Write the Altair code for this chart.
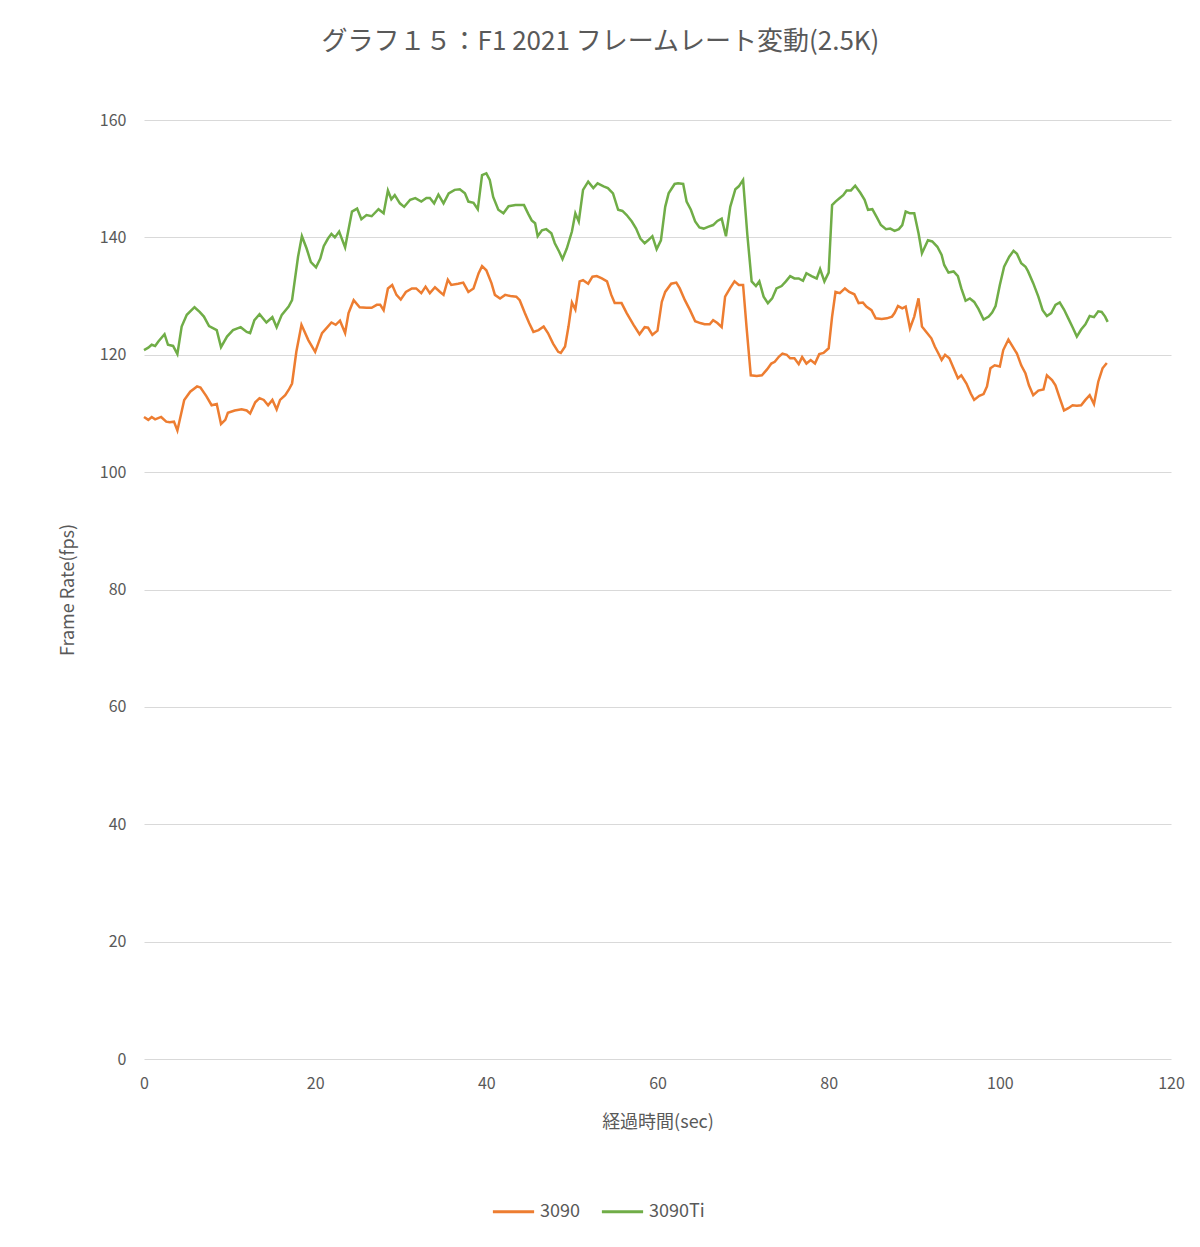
import altair as alt
import pandas as pd

# ---- data ----
t_3090 = [0, 0.5, 0.9, 1.3, 2.0, 2.6, 3.0, 3.5, 3.9, 4.7, 5.4, 6.2, 6.6, 7.3, 7.9, 8.5, 9.0, 9.5, 9.8,
          10.6, 11.4, 12.0, 12.4, 13.0, 13.5, 14.0, 14.5, 15.0, 15.5, 15.9, 16.5, 16.9, 17.3, 17.8, 18.4,
          19.2, 20.0, 20.8, 21.3, 21.9, 22.4, 22.9, 23.5, 23.9, 24.5, 25.2, 26.0, 26.6, 27.2, 27.6, 28.0,
          28.5, 29.0, 29.5, 30.0, 30.6, 31.3, 31.8, 32.4, 32.9, 33.4, 34.0, 34.6, 35.0, 35.5, 35.9, 36.7,
          37.3, 37.9, 38.5, 39.1, 39.5, 40.0, 40.6, 41.0, 41.6, 42.2, 42.8, 43.5, 43.9, 44.5, 45.0, 45.5,
          46.1, 46.7, 47.2, 47.8, 48.4, 48.7, 49.2, 49.6, 50.0, 50.4, 50.9, 51.3, 51.9, 52.4, 52.9, 53.5,
          54.1, 54.6, 55.0, 55.8, 56.4, 57.2, 57.9, 58.5, 58.9, 59.4, 60.0, 60.5, 60.9, 61.6, 62.2, 62.6,
          63.2, 63.8, 64.4, 65.0, 65.5, 66.1, 66.5, 67.0, 67.5, 67.9, 68.5, 69.0, 69.5, 70.0, 70.4, 70.9,
          71.6, 72.2, 72.8, 73.3, 73.7, 74.2, 74.6, 75.1, 75.5, 76.0, 76.5, 76.9, 77.4, 77.9, 78.4, 78.9,
          79.4, 80.0, 80.4, 80.8, 81.3, 81.9, 82.4, 83.0, 83.5, 84.0, 84.4, 85.0, 85.5, 86.2, 86.8, 87.4,
          87.7, 88.1, 88.6, 89.0, 89.5, 90.0, 90.5, 90.9, 91.5, 92.0, 92.4, 92.9, 93.2, 93.6, 94.1, 94.6,
          95.1, 95.5, 96.1, 96.6, 97.0, 97.6, 98.1, 98.5, 98.9, 99.4, 100.0, 100.4, 101.0, 101.5, 102.0,
          102.5, 103.0, 103.4, 103.9, 104.5, 105.1, 105.5, 106.1, 106.5, 107.0, 107.5, 108.0, 108.5,
          109.0, 109.5, 110.0, 110.5, 111.0, 111.5, 112.0, 112.5]
v_3090 = [109.4, 108.9, 109.4, 109.0, 109.4, 108.6, 108.5, 108.6, 107.1, 112.3, 113.7, 114.6, 114.4,
          112.9, 111.4, 111.6, 108.2, 108.9, 110.1, 110.5, 110.7, 110.5, 110.0, 111.9, 112.6, 112.3,
          111.4, 112.3, 110.7, 112.3, 113.1, 114.0, 115.1, 120.5, 125.1, 122.5, 120.5, 123.7, 124.5,
          125.5, 125.1, 125.8, 123.7, 127.1, 129.3, 128.1, 128.0, 128.0, 128.5, 128.5, 127.6, 131.3,
          131.9, 130.2, 129.4, 130.7, 131.3, 131.3, 130.5, 131.6, 130.5, 131.5, 130.7, 130.2, 132.8,
          131.9, 132.1, 132.3, 130.7, 131.3, 133.9, 135.1, 134.4, 132.2, 130.2, 129.6, 130.2, 130.0,
          129.9, 129.3, 127.1, 125.4, 123.9, 124.2, 124.8, 123.7, 121.9, 120.5, 120.3, 121.4, 124.8,
          128.9, 127.7, 132.5, 132.7, 132.1, 133.3, 133.4, 133.0, 132.5, 130.2, 128.8, 128.8, 127.1,
          125.1, 123.5, 124.7, 124.6, 123.4, 124.1, 129.0, 130.7, 132.1, 132.3, 131.3, 129.3, 127.6,
          125.7, 125.4, 125.2, 125.2, 125.9, 125.4, 124.7, 129.9, 131.4, 132.5, 131.9, 131.9, 124.8,
          116.5, 116.4, 116.5, 117.5, 118.5, 118.8, 119.7, 120.2, 120.0, 119.4, 119.4, 118.4, 119.6,
          118.5, 119.1, 118.5, 120.1, 120.3, 121.1, 126.5, 130.7, 130.5, 131.3, 130.7, 130.3, 128.8,
          128.9, 128.2, 127.6, 126.2, 126.1, 126.2, 126.5, 127.1, 128.3, 127.9, 128.2, 124.5, 126.5,
          129.6, 124.8, 123.7, 122.8, 121.4, 120.0, 119.1, 120.0, 119.4, 117.7, 116.0, 116.5, 115.1,
          113.4, 112.3, 113.0, 113.3, 114.6, 117.7, 118.2, 118.0, 120.8, 122.6, 121.4, 120.2, 118.2,
          116.8, 114.8, 113.1, 113.9, 114.1, 116.5, 115.7, 114.8, 112.6, 110.5, 110.9, 111.4, 111.3,
          111.4, 112.3, 113.1, 111.6, 115.4, 117.7, 118.6]

t_3090ti = [0, 0.5, 0.9, 1.3, 1.7, 2.4, 2.8, 3.4, 3.9, 4.4, 5.0, 5.9, 6.5, 7.0, 7.6, 8.5, 9.0, 9.7, 10.4,
            11.3, 12.0, 12.4, 12.9, 13.5, 14.3, 15.0, 15.5, 16.1, 16.9, 17.3, 18.0, 18.45, 19.0, 19.5,
            20.1, 20.6, 21.0, 21.5, 21.9, 22.3, 22.8, 23.5, 24.3, 24.9, 25.4, 26.0, 26.6, 27.4, 28.0,
            28.5, 28.9, 29.3, 29.9, 30.4, 31.1, 31.7, 32.4, 33.0, 33.4, 33.9, 34.4, 35.0, 35.6, 36.3,
            36.9, 37.5, 37.9, 38.5, 39.0, 39.5, 40.0, 40.4, 40.8, 41.4, 42.0, 42.6, 43.4, 44.4, 44.9,
            45.3, 45.7, 46.0, 46.5, 47.0, 47.6, 48.0, 48.5, 48.9, 49.4, 50.0, 50.4, 50.8, 51.3, 51.9,
            52.5, 53.0, 53.7, 54.2, 54.8, 55.4, 55.9, 56.4, 57.0, 57.5, 58.0, 58.5, 58.9, 59.4, 59.9,
            60.4, 60.9, 61.3, 62.0, 62.4, 63.0, 63.4, 63.9, 64.4, 64.9, 65.4, 65.9, 66.5, 67.0, 67.5,
            68.0, 68.5, 69.1, 69.5, 70.0, 70.5, 71.0, 71.5, 71.9, 72.4, 72.9, 73.4, 73.9, 74.5, 75.0,
            75.5, 76.0, 76.5, 77.0, 77.4, 78.0, 78.6, 79.0, 79.5, 80.0, 80.4, 80.8, 81.3, 81.7, 82.1,
            82.6, 83.1, 83.7, 84.2, 84.6, 85.1, 85.6, 86.1, 86.7, 87.2, 87.7, 88.2, 88.6, 89.0, 89.5,
            90.0, 90.5, 90.9, 91.6, 92.1, 92.7, 93.2, 93.5, 94.0, 94.6, 95.1, 95.5, 96.0, 96.5, 97.0,
            97.5, 98.1, 98.7, 99.1, 99.5, 100.0, 100.5, 101.1, 101.6, 102.0, 102.5, 103.0, 103.3, 103.9,
            104.5, 105.0, 105.5, 106.0, 106.5, 107.0, 107.5, 108.0, 108.5, 109.0, 109.5, 110.0, 110.5,
            111.0, 111.5, 111.9, 112.3, 112.6]
v_3090ti = [120.8, 121.2, 121.7, 121.5, 122.3, 123.5, 121.7, 121.5, 120.1, 124.8, 126.8, 128.1, 127.3,
            126.5, 124.9, 124.2, 121.3, 123.1, 124.2, 124.7, 123.9, 123.7, 125.9, 126.9, 125.5, 126.4,
            124.7, 126.8, 128.2, 129.3, 136.7, 140.2, 138.1, 135.8, 134.9, 136.4, 138.5, 139.8, 140.6,
            140.0, 141.0, 138.3, 144.4, 144.9, 143.1, 143.8, 143.6, 144.8, 144.1, 148.0, 146.5, 147.2,
            145.8, 145.2, 146.4, 146.7, 146.1, 146.7, 146.7, 145.8, 147.3, 145.8, 147.5, 148.1, 148.2,
            147.5, 146.1, 145.9, 144.8, 150.6, 150.9, 149.8, 146.9, 144.7, 144.1, 145.3, 145.5, 145.5,
            144.0, 142.9, 142.4, 140.2, 141.2, 141.4, 140.7, 139.0, 137.6, 136.3, 138.1, 141.0, 144.1,
            142.7, 148.1, 149.5, 148.4, 149.2, 148.7, 148.4, 147.5, 144.7, 144.5, 143.8, 142.7, 141.5,
            139.8, 139.0, 139.5, 140.2, 138.0, 139.5, 145.2, 147.5, 149.1, 149.2, 149.1, 146.1, 144.7,
            142.7, 141.7, 141.5, 141.8, 142.1, 142.8, 143.2, 140.2, 145.2, 148.2, 148.7, 149.8, 140.4,
            132.5, 131.7, 132.5, 129.9, 128.8, 129.6, 131.3, 131.7, 132.5, 133.4, 133.0, 133.0, 132.6,
            133.9, 133.4, 133.0, 134.6, 132.5, 134.0, 145.5, 146.1, 146.7, 147.2, 148.0, 148.0, 148.8,
            147.6, 146.4, 144.7, 144.8, 143.5, 142.1, 141.4, 141.5, 141.1, 141.4, 142.1, 144.4, 144.1,
            144.1, 140.7, 137.3, 139.5, 139.3, 138.4, 137.0, 135.3, 134.0, 134.2, 133.4, 131.3, 129.2,
            129.6, 129.0, 127.8, 126.0, 126.5, 127.2, 128.3, 131.9, 135.0, 136.7, 137.7, 137.2, 135.6,
            135.0, 134.2, 132.2, 129.9, 127.6, 126.6, 127.1, 128.5, 128.9, 127.7, 126.2, 124.7, 123.1,
            124.3, 125.2, 126.6, 126.4, 127.4, 127.3, 126.5, 125.6]

series_names = ["3090", "3090Ti"]
series_colors = ["#ED7D31", "#70AD47"]
x_ticks = [0, 20, 40, 60, 80, 100, 120]
y_ticks = [0, 20, 40, 60, 80, 100, 120, 140, 160]

rows = []
for name, ts, vs in [(series_names[0], t_3090, v_3090), (series_names[1], t_3090ti, v_3090ti)]:
    for i, (t, v) in enumerate(zip(ts, vs)):
        rows.append({"t": t, "fps": v, "series": name, "order": i})
df = pd.DataFrame(rows)

FONT = "Noto Sans CJK JP"
GRAY = "#595959"

chart = alt.Chart(df).mark_line(strokeWidth=2.5).encode(
    x=alt.X("t:Q", scale=alt.Scale(domain=[0, 120], nice=False),
            axis=alt.Axis(values=x_ticks, title="経過時間(sec)", grid=False, labelFlush=False,
                          labelPadding=16, titlePadding=22)),
    y=alt.Y("fps:Q", scale=alt.Scale(domain=[0, 160], nice=False),
            axis=alt.Axis(values=y_ticks, title="Frame Rate(fps)", grid=True,
                          labelPadding=18, titlePadding=22)),
    color=alt.Color("series:N", scale=alt.Scale(domain=series_names, range=series_colors),
                    legend=alt.Legend(title=None, orient="none", direction="horizontal",
                                      legendX=347, legendY=1069, symbolType="stroke",
                                      symbolSize=1700, symbolStrokeWidth=3,
                                      labelFontSize=18, labelColor=GRAY, labelFont=FONT,
                                      columnPadding=15, labelOffset=4)),
    order="order:Q",
).properties(
    width=1027,
    height=939,
    title=alt.TitleParams("グラフ１５：F1 2021 フレームレート変動(2.5K)", anchor="middle",
                          dx=-57, offset=57, fontSize=26, font=FONT, color=GRAY,
                          fontWeight="normal"),
    autosize=alt.AutoSizeParams(type="none"),
    padding={"left": 136, "top": 112, "right": 21, "bottom": 182},
).configure_view(stroke=None).configure_axis(
    domain=False, ticks=False, gridColor="#d9d9d9", gridWidth=1,
    labelFont=FONT, labelFontSize=16, labelColor=GRAY,
    titleFont=FONT, titleFontSize=18, titleColor=GRAY, titleFontWeight="normal",
)

chart.save("out.html", embed_options={"renderer": "svg", "actions": False})
